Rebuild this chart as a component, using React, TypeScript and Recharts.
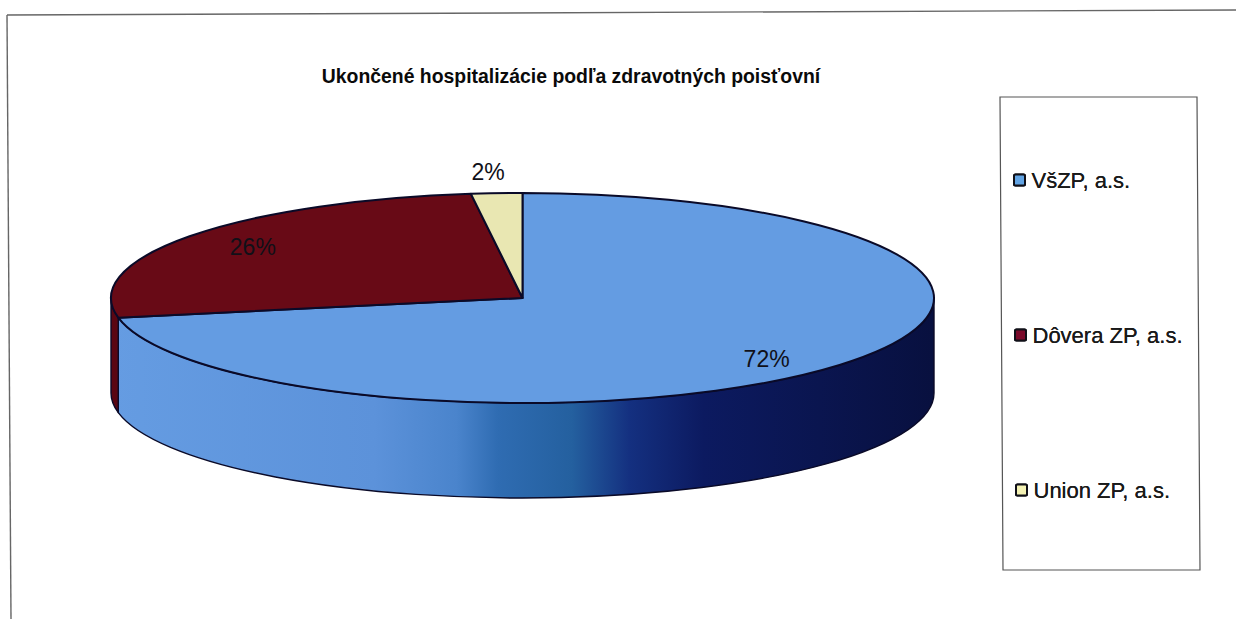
import React from "react";
import { PieChart, Pie, Legend } from "recharts";

const categories = ["VšZP, a.s.", "Dôvera ZP, a.s.", "Union ZP, a.s."];
const shares = [72, 26, 2];
const sliceColors = ["#649ce2", "#680a16", "#e9e7b2"];
const swatchColors = ["#62a4e4", "#7a0a2a", "#f4f2b4"];
const titleText = "Ukončené hospitalizácie podľa zdravotných poisťovní";

const tableData = categories.map((name, i) => ({ name, value: shares[i], fill: sliceColors[i] }));

const FONT = '"Liberation Sans", Arial, sans-serif';
const CX = 522.5;
const CY = 298;
const RX = 411.5;
const SQUASH = 105 / 411.5;
const DEPTH = 95;
const OUTLINE = "#0a0a28";

const labelFactors = [
  { fx: 0.77, fy: 0.91 },
  { fx: 0.81, fy: 0.83 },
  { fx: 1.33, fy: 1.2 },
];
const legendRows = [
  { x: 1014, y: 180 },
  { x: 1015, y: 335 },
  { x: 1016, y: 490 },
];

const rad = (d: number) => (d * Math.PI) / 180;
const pt = (cx: number, cy: number, r: number, a: number, dy = 0) =>
  `${cx + r * Math.cos(rad(a))} ${cy - r * SQUASH * Math.sin(rad(a)) + dy}`;

function TopFace(p: any) {
  const { cx, cy, outerRadius: r, startAngle, endAngle, fill } = p;
  const large = Math.abs(startAngle - endAngle) > 180 ? 1 : 0;
  const d = `M ${cx} ${cy} L ${pt(cx, cy, r, startAngle)} A ${r} ${r * SQUASH} 0 ${large} 1 ${pt(cx, cy, r, endAngle)} Z`;
  return <path d={d} fill={fill} stroke={OUTLINE} strokeWidth={2} strokeLinejoin="round" />;
}

function SideWall(p: any) {
  const { cx, cy, outerRadius: r, startAngle, endAngle, index } = p;
  const hi = Math.min(startAngle, 0);
  const lo = Math.max(endAngle, -180);
  if (hi <= lo) return <g />;
  const ry = r * SQUASH;
  const d =
    `M ${pt(cx, cy, r, hi)} A ${r} ${ry} 0 0 1 ${pt(cx, cy, r, lo)} ` +
    `L ${pt(cx, cy, r, lo, DEPTH)} A ${r} ${ry} 0 0 0 ${pt(cx, cy, r, hi, DEPTH)} Z`;
  const fill = index === 0 ? "url(#wallGradient)" : "#5a0612";
  return <path d={d} fill={fill} stroke={OUTLINE} strokeWidth={1.4} strokeLinejoin="round" />;
}

function SliceLabel(p: any) {
  const { cx, cy, outerRadius: r, midAngle, index, value } = p;
  const f = labelFactors[index];
  const x = cx + r * f.fx * Math.cos(rad(midAngle));
  const y = cy - r * SQUASH * f.fy * Math.sin(rad(midAngle));
  return (
    <text x={x} y={y} textAnchor="middle" dominantBaseline="central" fontFamily={FONT} fontSize={23} fill="#101018">
      {value}%
    </text>
  );
}

function LegendBox({ payload }: any) {
  const items = (payload || []).filter((e: any) => categories.includes(e.value));
  return (
    <svg width={1236} height={619} style={{ display: "block" }}>
      <polygon points="1000,97 1197,97 1200,570 1003,570" fill="#ffffff" stroke="#555" strokeWidth={1.2} />
      {items.map((e: any) => {
        const idx = categories.indexOf(e.value);
        const row = legendRows[idx];
        return (
          <g key={e.value}>
            <rect x={row.x} y={row.y - 5.5} width={11} height={11} fill={swatchColors[idx]} stroke="#101018" strokeWidth={2} rx={1.5} />
            <text x={row.x + 17.5} y={row.y} dominantBaseline="central" fontFamily={FONT} fontSize={22} fill="#1a1a1a">
              {e.value}
            </text>
          </g>
        );
      })}
    </svg>
  );
}

export default function App() {
  return (
    <div style={{ position: "absolute", left: 0, top: 0, width: 1236, height: 619, background: "#fff", overflow: "hidden" }}>
      <PieChart width={1236} height={619} margin={{ top: 0, right: 0, bottom: 0, left: 0 }}>
        <defs>
          <linearGradient id="wallGradient" gradientUnits="userSpaceOnUse" x1="111" y1="0" x2="934" y2="0">
            <stop offset="0" stopColor="#659ce2" />
            <stop offset="0.32" stopColor="#5c92da" />
            <stop offset="0.42" stopColor="#4a84cc" />
            <stop offset="0.47" stopColor="#2f6cb2" />
            <stop offset="0.56" stopColor="#24609f" />
            <stop offset="0.63" stopColor="#143080" />
            <stop offset="0.72" stopColor="#0c1a60" />
            <stop offset="1" stopColor="#08103f" />
          </linearGradient>
        </defs>
        <line x1={7} y1={15} x2={1236} y2={10} stroke="#666" strokeWidth={1.4} />
        <line x1={7} y1={15} x2={11} y2={619} stroke="#666" strokeWidth={1.4} />
        <text x={571} y={76} textAnchor="middle" dominantBaseline="central" fontFamily={FONT} fontWeight={700} fontSize={19.4} fill="#0a0a0a">
          {titleText}
        </text>
        <Legend
          content={<LegendBox />}
          wrapperStyle={{ position: "absolute", left: 0, top: 0, width: 1236, height: 619, pointerEvents: "none" }}
        />
        <Pie
          data={tableData}
          dataKey="value"
          nameKey="name"
          cx={CX}
          cy={CY}
          outerRadius={RX}
          startAngle={90}
          endAngle={-270}
          paddingAngle={0}
          legendType="none"
          shape={SideWall}
          label={false}
          labelLine={false}
          isAnimationActive={false}
        />
        <Pie
          data={tableData}
          dataKey="value"
          nameKey="name"
          cx={CX}
          cy={CY}
          outerRadius={RX}
          startAngle={90}
          endAngle={-270}
          paddingAngle={0}
          shape={TopFace}
          label={SliceLabel}
          labelLine={false}
          isAnimationActive={false}
        />
      </PieChart>
    </div>
  );
}
